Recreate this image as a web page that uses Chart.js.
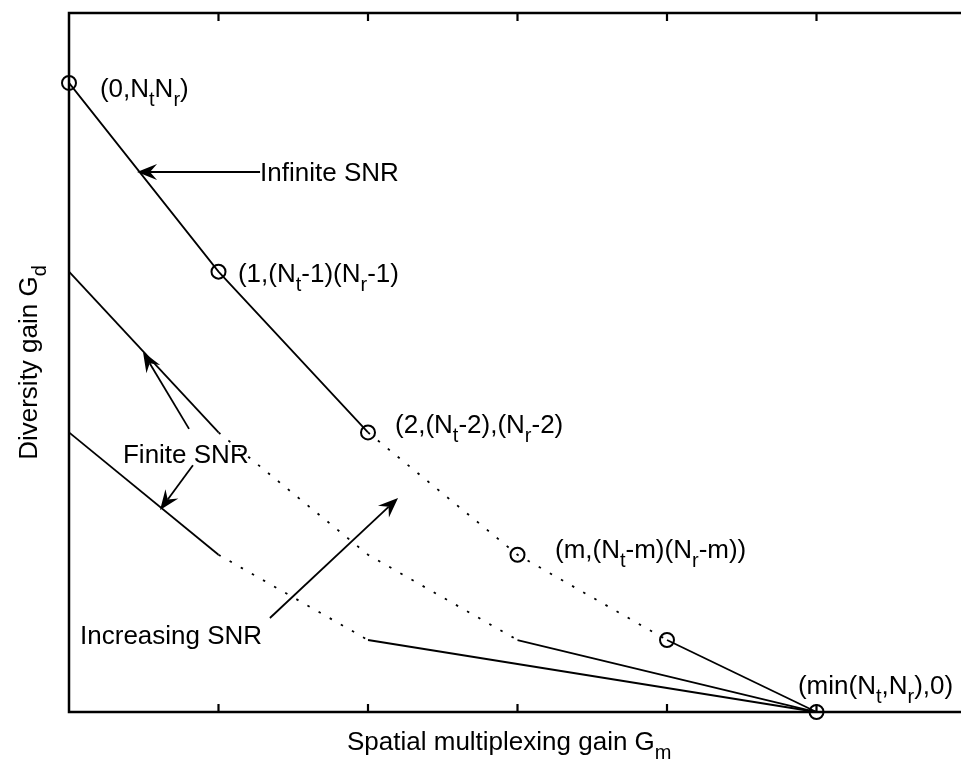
<!DOCTYPE html>
<html lang="en">
<head>
<meta charset="UTF-8">
<title>Diversity-multiplexing tradeoff</title>
<script src="https://cdn.jsdelivr.net/npm/chart.js"></script>
<style>
  html, body { margin: 0; padding: 0; background: #fff; overflow: hidden; }
  #wrap { width: 975px; height: 767px; }
</style>
</head>
<body>
<div id="wrap"><canvas id="dmt"></canvas></div>
<script>
// tradeoff curves (spatial multiplexing gain -> diversity gain)
const gmInfinite = [0, 1, 2, 3, 4, 5];
const gdInfinite = [9, 6.3, 4, 2.25, 1.03, 0];
const gmFiniteHigh = [0, 1, 2, 3, 5];
const gdFiniteHigh = [6.3, 4, 2.25, 1.03, 0];
const gmFiniteLow = [0, 1, 2, 5];
const gdFiniteLow = [4, 2.25, 1.03, 0];

// which segments are drawn dotted
const dotInfinite = [false, false, true, true, false];
const dotFiniteHigh = [false, true, true, false];
const dotFiniteLow = [false, true, false];

const xTickValues = [1, 2, 3, 4, 5];

// point labels, "_" marks a subscript character
const pointLabels = [
  { text: "(0,N_tN_r)", x: 0.207, y: 8.80 },
  { text: "(1,(N_t-1)(N_r-1)", x: 1.130, y: 6.15 },
  { text: "(2,(N_t-2),(N_r-2)", x: 2.181, y: 3.99 },
  { text: "(m,(N_t-m)(N_r-m))", x: 3.251, y: 2.20 },
  { text: "(min(N_t,N_r),0)", x: 4.876, y: 0.26 }
];
const noteLabels = [
  { text: "Infinite SNR", x: 1.278, y: 7.60 },
  { text: "Finite SNR", x: 0.361, y: 3.56 },
  { text: "Increasing SNR", x: 0.074, y: 0.97 }
];
// arrows: tail -> head in data units
const arrows = [
  { from: [1.278, 7.725], to: [0.455, 7.725] },
  { from: [0.803, 4.05], to: [0.495, 5.15] },
  { from: [0.829, 3.53], to: [0.609, 2.89] },
  { from: [1.344, 1.345], to: [2.201, 3.062] }
];

const FONT = '"Liberation Sans", Arial, sans-serif';

function pts(xs, ys) {
  return xs.map((x, i) => ({ x: x, y: ys[i] }));
}

function curve(xs, ys, dots, marker) {
  return {
    data: pts(xs, ys),
    showLine: true,
    borderColor: "#000",
    borderWidth: 1.8,
    pointRadius: marker ? 7 : 0,
    pointHoverRadius: marker ? 7 : 0,
    pointBackgroundColor: "rgba(0,0,0,0)",
    pointBorderColor: "#000",
    pointBorderWidth: 2,
    clip: false,
    segment: {
      borderDash: c => dots[c.p0DataIndex] ? [2.5, 10.3] : undefined
    }
  };
}

function drawRich(ctx, str, x, y) {
  let cx = x;
  for (let i = 0; i < str.length; i++) {
    let ch = str[i];
    let sub = false;
    if (ch === "_" && i + 1 < str.length) {
      sub = true;
      ch = str[++i];
    }
    ctx.font = (sub ? "20px " : "26px ") + FONT;
    ctx.fillText(ch, cx, sub ? y + 9 : y);
    cx += ctx.measureText(ch).width;
  }
}

function richWidth(ctx, str) {
  let w = 0;
  for (let i = 0; i < str.length; i++) {
    let ch = str[i];
    let sub = false;
    if (ch === "_" && i + 1 < str.length) { sub = true; ch = str[++i]; }
    ctx.font = (sub ? "20px " : "26px ") + FONT;
    w += ctx.measureText(ch).width;
  }
  return w;
}

function drawArrow(ctx, x0, y0, x1, y1) {
  const a = Math.atan2(y1 - y0, x1 - x0);
  const ux = Math.cos(a), uy = Math.sin(a);
  const nx = -uy, ny = ux;
  const L = 20, W = 8, N = 13;
  ctx.beginPath();
  ctx.moveTo(x0, y0);
  ctx.lineTo(x1 - N * ux, y1 - N * uy);
  ctx.stroke();
  ctx.beginPath();
  ctx.moveTo(x1, y1);
  ctx.lineTo(x1 - L * ux + W * nx, y1 - L * uy + W * ny);
  ctx.lineTo(x1 - N * ux, y1 - N * uy);
  ctx.lineTo(x1 - L * ux - W * nx, y1 - L * uy - W * ny);
  ctx.closePath();
  ctx.fill();
}

const framePlugin = {
  id: "frame",
  beforeDatasetsDraw(chart) {
    const { ctx, chartArea: a, scales } = chart;
    ctx.save();
    ctx.strokeStyle = "#000";
    ctx.lineWidth = 2.5;
    ctx.beginPath();
    ctx.moveTo(a.right, a.top);
    ctx.lineTo(a.left, a.top);
    ctx.lineTo(a.left, a.bottom);
    ctx.lineTo(a.right, a.bottom);
    ctx.lineTo(a.right, a.top);
    ctx.stroke();
    ctx.lineWidth = 2.2;
    xTickValues.forEach(v => {
      const px = scales.x.getPixelForValue(v);
      ctx.beginPath();
      ctx.moveTo(px, a.bottom);
      ctx.lineTo(px, a.bottom - 8);
      ctx.moveTo(px, a.top);
      ctx.lineTo(px, a.top + 8);
      ctx.stroke();
    });
    ctx.restore();
  },
  afterDatasetsDraw(chart) {
    const { ctx, chartArea: a, scales } = chart;
    const X = v => scales.x.getPixelForValue(v);
    const Y = v => scales.y.getPixelForValue(v);
    ctx.save();
    ctx.fillStyle = "#000";
    ctx.strokeStyle = "#000";
    ctx.lineWidth = 1.8;
    ctx.textBaseline = "alphabetic";
    pointLabels.concat(noteLabels).forEach(l => drawRich(ctx, l.text, X(l.x), Y(l.y)));
    arrows.forEach(r => drawArrow(ctx, X(r.from[0]), Y(r.from[1]), X(r.to[0]), Y(r.to[1])));

    // axis titles
    const xt = "Spatial multiplexing gain G_m";
    drawRich(ctx, xt, 347, a.bottom + 38);
    const yt = "Diversity gain G_d";
    ctx.translate(37, (a.top + a.bottom) / 2);
    ctx.rotate(-Math.PI / 2);
    drawRich(ctx, yt, -richWidth(ctx, yt) / 2, 0);
    ctx.restore();
  }
};

new Chart(document.getElementById("dmt"), {
  type: "scatter",
  data: {
    datasets: [
      curve(gmInfinite, gdInfinite, dotInfinite, true),
      curve(gmFiniteHigh, gdFiniteHigh, dotFiniteHigh, false),
      curve(gmFiniteLow, gdFiniteLow, dotFiniteLow, false)
    ]
  },
  options: {
    responsive: true,
    maintainAspectRatio: false,
    animation: false,
    layout: { padding: { left: 69, right: 9, top: 13, bottom: 55 } },
    plugins: { legend: { display: false }, tooltip: { enabled: false } },
    scales: {
      x: { type: "linear", display: false, min: 0, max: 6 },
      y: { type: "linear", display: false, min: 0, max: 10 }
    }
  },
  plugins: [framePlugin]
});
</script>
</body>
</html>
